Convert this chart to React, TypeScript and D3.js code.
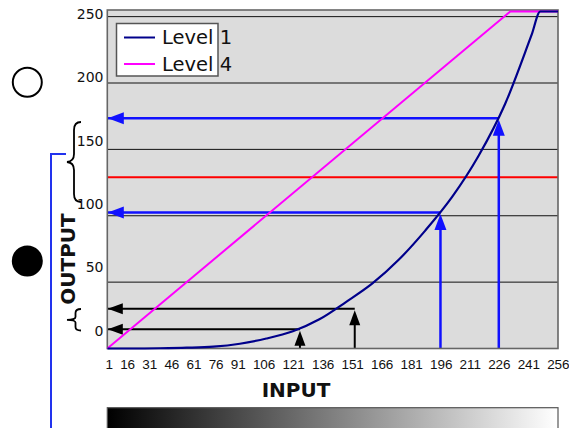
import React from 'react';
import * as d3 from 'd3';

const inputTickLabels = ['1','16','31','46','61','76','91','106','121','136','151','166','181','196','211','226','241','256'];
const outputTickLabels = [0, 50, 100, 150, 200, 250];
const gridOutputs = [50, 100, 150, 200, 250];

const level1Inputs = [1, 16, 31, 46, 61, 76, 91, 106, 121, 136, 151, 166, 181, 196, 211, 226, 241, 246, 256];
const level1Outputs = [0, 0, 0.2, 0.6, 1.4, 3.6, 7.5, 13, 22, 35, 49, 67, 89, 114, 145, 184, 236, 255, 255];

const level4Inputs = [1, 229, 256];
const level4Outputs = [0, 255, 255];

const referenceOutput = 129;

const blackArrowInputs = [110, 141];
const blackArrowOutputs = [14.5, 30];
const blueArrowInputs = [189.5, 222.5];
const blueArrowOutputs = [102.5, 173.5];

const legendNames = ['Level 1', 'Level 4'];

const W = 569, H = 428;
const PL = 107.3, PR = 558, PT = 10, PB = 348.5;

export default function App() {
  const x = d3.scaleLinear().domain([1, 256]).range([PL, PR]);
  const y = d3.scaleLinear().domain([0, 255]).range([PB, PT]);
  const yLab = d3.scaleLinear().domain([0, 250]).range([335.7, 19]);

  const l1 = d3.line<[number, number]>().x(d => x(d[0])).y(d => Math.max(y(d[1]), PT + 1.5))
    .curve(d3.curveMonotoneX)(level1Inputs.map((v, i) => [v, level1Outputs[i]]))!;
  const l4 = d3.line<[number, number]>().x(d => x(d[0])).y(d => Math.max(y(d[1]), PT + 1.5))
    (level4Inputs.map((v, i) => [v, level4Outputs[i]]))!;

  const NAVY = '#00008b';
  const MAG = '#ff00ff';
  const BLUE = '#1111ff';

  const arrows = (ins: number[], outs: number[], color: string, sw: number, len: number, hw: number) =>
    ins.map((inp, i) => {
      const ax = x(inp);
      const ay = y(outs[i]);
      const tipY = ay + 1.5;
      return (
        <g key={color + i}>
          <line x1={PL} y1={ay} x2={ax} y2={ay} stroke={color} strokeWidth={sw} />
          <polygon points={`${PL + 0.5},${ay} ${PL + 0.5 + len},${ay - hw} ${PL + 0.5 + len},${ay + hw}`} fill={color} />
          <line x1={ax} y1={PB} x2={ax} y2={tipY + len - 2} stroke={color} strokeWidth={sw} />
          <polygon points={`${ax},${tipY} ${ax - hw},${tipY + len} ${ax + hw},${tipY + len}`} fill={color} />
        </g>
      );
    });

  return (
    <svg width={W} height={H} style={{ position: 'fixed', left: 0, top: 0, background: '#fff' }}>
      <defs>
        <linearGradient id="grayRamp" x1="0" x2="1" y1="0" y2="0">
          <stop offset="0" stopColor="#000" />
          <stop offset="1" stopColor="#fff" />
        </linearGradient>
        <clipPath id="plotClip">
          <rect x={PL} y={PT - 2} width={PR - PL + 2} height={PB - PT + 4} />
        </clipPath>
      </defs>

      <rect x={PL} y={PT} width={PR - PL} height={PB - PT} fill="#dcdcdc" />
      {gridOutputs.map(g => (
        <line key={g} x1={PL} x2={PR} y1={y(g)} y2={y(g)} stroke="#111" strokeWidth={1} />
      ))}
      <line x1={PL} x2={PR} y1={y(referenceOutput)} y2={y(referenceOutput)} stroke="#ff0000" strokeWidth={2} />

      {arrows(blackArrowInputs, blackArrowOutputs, '#000', 2, 15, 5.5)}
      {arrows(blueArrowInputs, blueArrowOutputs, BLUE, 2.5, 16, 6)}

      <rect x={PL} y={PT} width={PR - PL} height={PB - PT} fill="none" stroke="#666" strokeWidth={1.6} />

      <g clipPath="url(#plotClip)">
        <path d={l4} fill="none" stroke={MAG} strokeWidth={2} />
        <path d={l1} fill="none" stroke={NAVY} strokeWidth={2.2} />
      </g>

      <rect x={116.5} y={23.5} width={101.5} height={52.5} fill="#fff" stroke="#555" strokeWidth={1.5} />
      {legendNames.map((n, i) => (
        <g key={n}>
          <line x1={124} x2={155} y1={37.5 + i * 26.5} y2={37.5 + i * 26.5} stroke={i === 0 ? NAVY : MAG} strokeWidth={2} />
          <text x={162} y={44 + i * 26.5} fontFamily="DejaVu Sans" fontSize={19.5} fill="#111">{n}</text>
        </g>
      ))}

      {outputTickLabels.map(t => (
        <text key={t} x={103.5} y={yLab(t)} textAnchor="end" fontFamily="DejaVu Sans" fontSize={14} fill="#111">{t}</text>
      ))}

      <text x={105.5} y={368.5} fontFamily="Liberation Sans" fontSize={13.5} fill="#111"
        xmlSpace="preserve" style={{ whiteSpace: 'pre' }} textLength={464} lengthAdjust="spacing">
        {inputTickLabels.join('  ')}
      </text>

      <text x={296} y={397} textAnchor="middle" fontFamily="DejaVu Sans" fontWeight="bold" fontSize={20} fill="#111">INPUT</text>
      <text transform="translate(75,259) rotate(-90)" textAnchor="middle" fontFamily="DejaVu Sans" fontWeight="bold" fontSize={20} fill="#111">OUTPUT</text>

      <rect x={PL} y={407.7} width={PR - PL} height={30} fill="url(#grayRamp)" stroke="#555" strokeWidth={1.2} />

      <circle cx={27.3} cy={82.3} r={14.5} fill="none" stroke="#000" strokeWidth={2} />
      <circle cx={27.3} cy={261} r={15.5} fill="#000" />
      <path d="M81,122 C76,122 74,125 74,130 L74,154 C74,159 72,161.5 67,162 C72,162.5 74,165 74,170 L74,194 C74,199 76,202 81,202"
        fill="none" stroke="#000" strokeWidth={1.8} />
      <path d="M81,309 C77,309 75.5,310 75.5,313 L75.5,317 C75.5,319 73,319.5 67,319.8 C73,320 75.5,320.5 75.5,322.5 L75.5,327 C75.5,329.5 77,330.5 81,330.5"
        fill="none" stroke="#000" strokeWidth={1.8} />
      <path d="M66,154 L51,154 L51,430" fill="none" stroke="#2233ee" strokeWidth={2} />
    </svg>
  );
}
